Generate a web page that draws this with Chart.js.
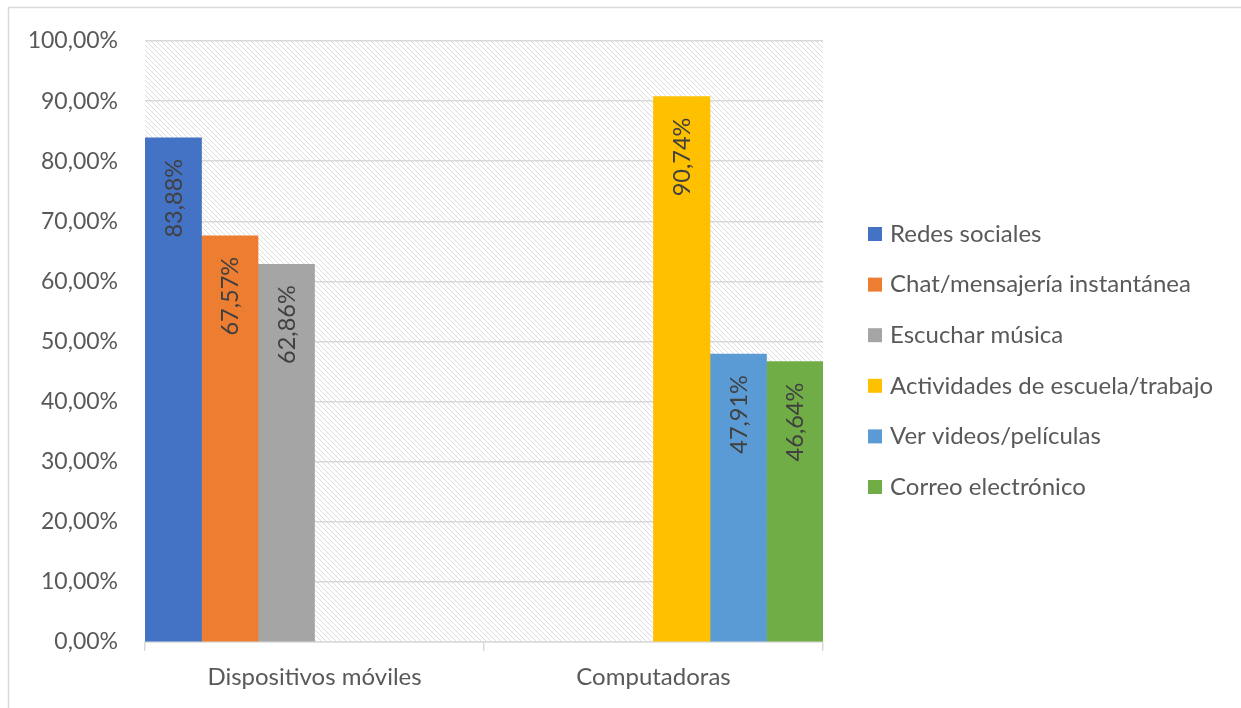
<!DOCTYPE html>
<html>
<head>
<meta charset="utf-8">
<script src="https://cdn.jsdelivr.net/npm/chart.js@4.4.0/dist/chart.umd.min.js"></script>
<style>
  html, body { margin: 0; padding: 0; background: #fff; }
  canvas { display: block; }
</style>
</head>
<body>
<canvas id="myChart" width="1241" height="708"></canvas>
<script>
'use strict';

// data
const categories = ['Dispositivos móviles', 'Computadoras'];
const seriesNames = [
    'Redes sociales',
    'Chat/mensajería instantánea',
    'Escuchar música',
    'Actividades de escuela/trabajo',
    'Ver videos/películas',
    'Correo electrónico'
];
const redesSociales = [83.88, null];
const chatMensajeria = [67.57, null];
const escucharMusica = [62.86, null];
const actividadesEscuela = [null, 90.74];
const verVideos = [null, 47.91];
const correoElectronico = [null, 46.64];
const yTickLabels = ['0,00%', '10,00%', '20,00%', '30,00%', '40,00%', '50,00%',
    '60,00%', '70,00%', '80,00%', '90,00%', '100,00%'];

const seriesValues = [redesSociales, chatMensajeria, escucharMusica,
    actividadesEscuela, verVideos, correoElectronico];
const seriesColors = ['#4472C4', '#ED7D31', '#A5A5A5', '#FFC000', '#5B9BD5', '#70AD47'];

const FONT = 'Lato';
const TEXT_COLOR = '#595959';
const GRID_COLOR = '#d9d9d9';

function pct(v) {
    return v.toFixed(2).replace('.', ',') + '%';
}

// diagonal hatch behind the plot
function makeHatch(ctx) {
    const tile = document.createElement('canvas');
    tile.width = 5;
    tile.height = 5;
    const t = tile.getContext('2d');
    t.strokeStyle = '#dcdcdc';
    t.lineWidth = 1;
    t.beginPath();
    t.moveTo(-1, -1); t.lineTo(6, 6);
    t.moveTo(-1, 4); t.lineTo(1, 6);
    t.moveTo(4, -1); t.lineTo(6, 1);
    t.stroke();
    return ctx.createPattern(tile, 'repeat');
}

const hatchPlugin = {
    id: 'hatch',
    beforeDraw(chart) {
        const ctx = chart.ctx;
        const a = chart.chartArea;
        ctx.save();
        ctx.fillStyle = '#fff';
        ctx.fillRect(0, 0, chart.width, chart.height);
        ctx.fillStyle = makeHatch(ctx);
        ctx.fillRect(a.left, a.top, a.right - a.left, a.bottom - a.top);
        // outer frame (left and top edges only are visible)
        ctx.strokeStyle = GRID_COLOR;
        ctx.lineWidth = 1.5;
        ctx.beginPath();
        ctx.moveTo(8.5, chart.height);
        ctx.lineTo(8.5, 7.5);
        ctx.lineTo(chart.width, 7.5);
        ctx.stroke();
        ctx.restore();
    }
};

const labelPlugin = {
    id: 'barLabels',
    afterDatasetsDraw(chart) {
        const ctx = chart.ctx;
        ctx.save();
        ctx.font = '23.5px ' + FONT;
        ctx.fillStyle = '#404040';
        ctx.textAlign = 'right';
        ctx.textBaseline = 'middle';
        chart.data.datasets.forEach((ds, i) => {
            const meta = chart.getDatasetMeta(i);
            meta.data.forEach((bar, j) => {
                const v = ds.data[j];
                if (v == null) return;
                ctx.save();
                ctx.translate(bar.x, bar.y + 21);
                ctx.rotate(-Math.PI / 2);
                ctx.fillText(pct(v), 0, 1);
                ctx.restore();
            });
        });
        ctx.restore();
    }
};

const legendPlugin = {
    id: 'sideLegend',
    afterDraw(chart) {
        const ctx = chart.ctx;
        ctx.save();
        ctx.font = '24px ' + FONT;
        ctx.textAlign = 'left';
        ctx.textBaseline = 'middle';
        chart.data.datasets.forEach((ds, i) => {
            const y = 234 + i * 50.6;
            ctx.fillStyle = ds.backgroundColor;
            ctx.fillRect(868, y - 7, 14, 14);
            ctx.fillStyle = TEXT_COLOR;
            ctx.fillText(ds.label, 890, y);
        });
        ctx.restore();
    }
};

function buildChart() {
    const datasets = [];
    for (let i = 0; i < seriesNames.length; i++) {
        datasets.push({
            label: seriesNames[i],
            data: seriesValues[i],
            backgroundColor: seriesColors[i],
            borderWidth: 0
        });
    }

    new Chart(document.getElementById('myChart'), {
        type: 'bar',
        data: { labels: categories, datasets: datasets },
        options: {
            responsive: false,
            animation: false,
            devicePixelRatio: 1,
            layout: { padding: { left: 0, top: 41, right: 418, bottom: 0 } },
            datasets: { bar: { categoryPercentage: 1, barPercentage: 1 } },
            plugins: {
                legend: { display: false },
                tooltip: { enabled: false }
            },
            scales: {
                x: {
                    afterFit(scale) { scale.height = 66; },
                    grid: {
                        display: true,
                        drawOnChartArea: false,
                        drawTicks: true,
                        tickLength: 9,
                        color: GRID_COLOR,
                        lineWidth: 1.5
                    },
                    border: { display: true, color: GRID_COLOR, width: 1.5 },
                    ticks: {
                        color: TEXT_COLOR,
                        font: { family: FONT, size: 24 },
                        padding: 12,
                        maxRotation: 0
                    }
                },
                y: {
                    min: 0,
                    max: 100,
                    afterFit(scale) { scale.width = 145; },
                    grid: { color: GRID_COLOR, lineWidth: 1.5, drawTicks: false },
                    border: { display: false },
                    ticks: {
                        stepSize: 10,
                        padding: 27,
                        color: TEXT_COLOR,
                        font: { family: FONT, size: 23 },
                        callback: (v, i) => yTickLabels[i]
                    }
                }
            }
        },
        plugins: [hatchPlugin, labelPlugin, legendPlugin]
    });
}

document.fonts.load('24px ' + FONT).then(buildChart, buildChart);
</script>
</body>
</html>
